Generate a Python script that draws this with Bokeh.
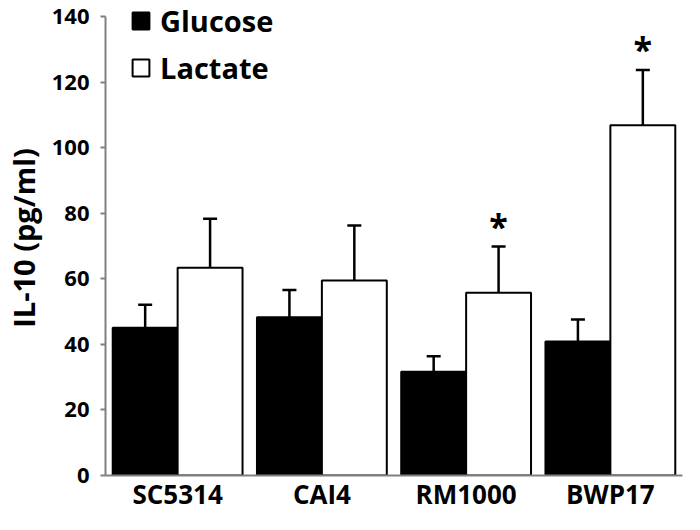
from bokeh.plotting import figure
from bokeh.models import (ColumnDataSource, Range1d, FactorRange, Whisker, TeeHead,
                          Legend, LegendItem, LinearAxis, CategoricalAxis, FixedTicker)
from bokeh.transform import dodge
from bokeh.core.properties import value
from bokeh.embed import file_html
from bokeh.resources import INLINE

strains = ["SC5314", "CAI4", "RM1000", "BWP17"]
glucose = [45.1, 48.3, 31.7, 40.9]
glucose_err = [7.0, 8.3, 4.7, 6.7]
lactate = [63.4, 59.5, 55.8, 106.9]
lactate_err = [15.0, 16.8, 14.1, 16.9]
significant = ["", "", "*", "*"]
y_ticks = [0, 20, 40, 60, 80, 100, 120, 140]

FONT = "Open Sans"

src = ColumnDataSource(dict(
    strain=strains,
    glucose=glucose,
    glucose_top=[v + e for v, e in zip(glucose, glucose_err)],
    lactate=lactate,
    lactate_top=[v + e for v, e in zip(lactate, lactate_err)],
    star=significant,
))

p = figure(width=684, height=514, x_range=FactorRange(*strains, range_padding=0),
           y_range=Range1d(0, 145), output_backend="svg", toolbar_location=None,
           x_axis_location=None, y_axis_location=None,
           min_border_left=95, min_border_right=2, min_border_top=0, min_border_bottom=0)
p.outline_line_color = None
p.xgrid.grid_line_color = None
p.ygrid.grid_line_color = None
p.background_fill_color = "white"
p.border_fill_color = "white"

bw = 0.45
g = p.vbar(x=dodge("strain", -bw / 2, range=p.x_range), top="glucose", width=bw, source=src,
           fill_color="black", line_color="black", line_width=2)
l = p.vbar(x=dodge("strain", bw / 2, range=p.x_range), top="lactate", width=bw, source=src,
           fill_color="white", line_color="black", line_width=2)

for field, top, off in [("glucose", "glucose_top", -bw / 2), ("lactate", "lactate_top", bw / 2)]:
    w = Whisker(base=dodge("strain", off, range=p.x_range), lower=field, upper=top, source=src,
                dimension="height", line_color="black", line_width=2.5,
                lower_head=None,
                upper_head=TeeHead(size=14, line_color="black", line_width=2.5))
    p.add_layout(w)

p.text(x=dodge("strain", bw / 2, range=p.x_range), y="lactate_top", text="star", source=src,
       text_font=value(FONT), text_font_style="bold", text_font_size="34px",
       text_align="center", text_baseline="bottom", text_color="black", y_offset=2)

yaxis = LinearAxis(bounds=(0, 140), ticker=FixedTicker(ticks=y_ticks),
                   axis_label="IL-10 (pg/ml)")
yaxis.axis_line_color = "#808080"
yaxis.axis_line_width = 2
yaxis.major_tick_line_color = "#808080"
yaxis.major_tick_line_width = 2
yaxis.major_tick_out = 5
yaxis.major_tick_in = 0
yaxis.minor_tick_line_color = None
yaxis.major_label_text_font = FONT
yaxis.major_label_text_font_style = "bold"
yaxis.major_label_text_font_size = "22px"
yaxis.major_label_text_color = "black"
yaxis.major_label_standoff = 11
yaxis.axis_label_text_font = FONT
yaxis.axis_label_text_font_style = "bold"
yaxis.axis_label_text_font_size = "29px"
yaxis.axis_label_text_color = "black"
yaxis.axis_label_standoff = 6
p.add_layout(yaxis, "left")

xaxis = CategoricalAxis()
xaxis.axis_line_color = "#808080"
xaxis.axis_line_width = 2
xaxis.major_tick_line_color = None
xaxis.major_tick_out = 0
xaxis.major_tick_in = 0
xaxis.minor_tick_line_color = None
xaxis.major_label_text_font = FONT
xaxis.major_label_text_font_style = "bold"
xaxis.major_label_text_font_size = "26px"
xaxis.major_label_text_color = "black"
xaxis.major_label_standoff = 0
p.add_layout(xaxis, "below")

legend = Legend(items=[LegendItem(label="Glucose", renderers=[g]),
                       LegendItem(label="Lactate", renderers=[l])],
                location=(25, 388), orientation="vertical",
                glyph_width=21, glyph_height=21, label_standoff=9,
                label_text_font=FONT, label_text_font_style="bold",
                label_text_font_size="29px", label_text_color="black",
                label_height=30, spacing=8, padding=0, margin=0,
                border_line_color=None, background_fill_alpha=0)
p.add_layout(legend, "center")

open("out.html", "w").write(file_html(p, INLINE))
